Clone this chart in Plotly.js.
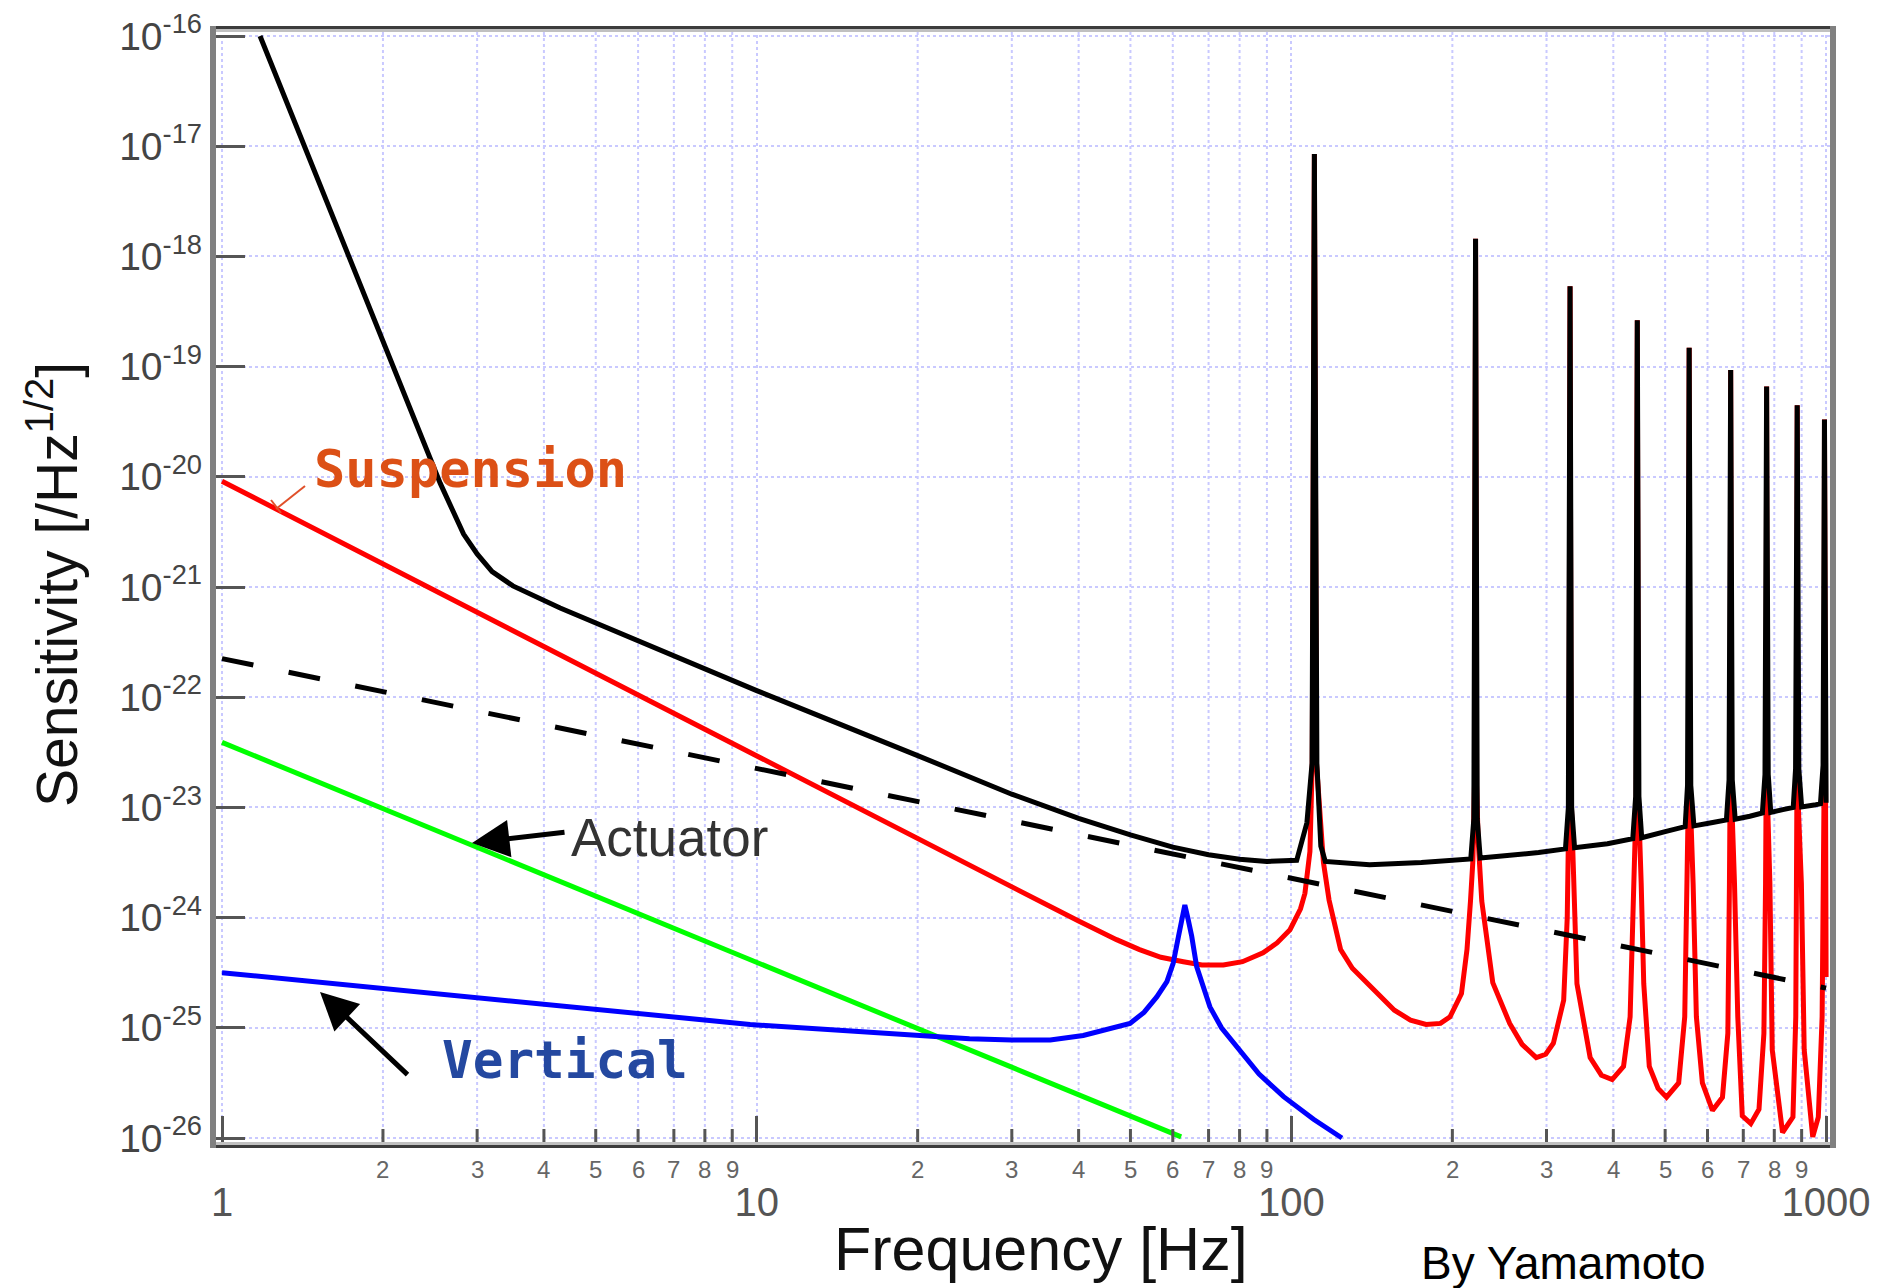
<!DOCTYPE html>
<html>
<head>
<meta charset="utf-8">
<script src="https://cdn.plot.ly/plotly-3.0.1.min.js"></script>
<style>
html,body{margin:0;padding:0;background:#ffffff;}
#chart{width:1878px;height:1288px;}
</style>
</head>
<body>
<div id="chart"></div>
<script>
// ---------------- data ----------------
// Total sensitivity (solid black)
const totalFreq = [1.178, 1.41, 1.70, 2.03, 2.45, 2.56, 2.83, 3.0, 3.2, 3.5, 4.29, 5.13, 7.54, 10, 20, 30, 40, 50, 60, 70, 80, 90, 102.3, 106.9, 109.3, 110.4, 111.6, 113.5, 115.7, 140, 175, 198,
  216.5, 219.4, 221, 222.6, 225.5, 290,
  325.5, 329.6, 332, 334.3, 338.5, 390,
  435, 440.4, 443.5, 446.6, 452, 500,
  545, 550.6, 554.5, 558.4, 566, 610,
  651, 658.4, 663, 667.6, 676, 720,
  760, 768.6, 774, 779.4, 788, 830,
  868, 876.8, 883, 889.2, 900, 950,
  976, 987, 993, 1000];
const totalSens = [1e-16, 1.148e-17, 1.202e-18, 1.413e-19, 1.445e-20, 8.71e-21, 3.02e-21, 1.995e-21, 1.38e-21, 1.023e-21, 6.457e-22, 4.467e-22, 2.042e-22, 1.148e-22, 2.951e-23, 1.318e-23, 7.943e-24, 5.623e-24, 4.365e-24, 3.715e-24, 3.388e-24, 3.236e-24, 3.311e-24, 7.244e-24, 2.512e-23, 8.511e-18, 2.512e-23, 4.467e-24, 3.236e-24, 3.02e-24, 3.162e-24, 3.311e-24,
  3.4e-24, 7.9e-24, 1.445e-18, 7.9e-24, 3.467e-24, 3.89e-24,
  4.2e-24, 1.0e-23, 5.37e-19, 1.0e-23, 4.3e-24, 4.677e-24,
  5.2e-24, 1.26e-23, 2.63e-19, 1.26e-23, 5.3e-24, 6.026e-24,
  6.7e-24, 1.585e-23, 1.479e-19, 1.585e-23, 6.8e-24, 7.244e-24,
  7.7e-24, 1.778e-23, 9.33e-20, 1.778e-23, 7.8e-24, 8.318e-24,
  8.9e-24, 1.995e-23, 6.607e-20, 1.995e-23, 9.0e-24, 9.55e-24,
  1.0e-23, 2.239e-23, 4.467e-20, 2.239e-23, 1.01e-23, 1.05e-23,
  1.08e-23, 2.4e-23, 3.311e-20, 1.1e-23];

// Reference line (dashed black)
const dashFreq = [1, 1000];
const dashSens = [2.239e-22, 2.291e-25];

// Suspension thermal noise (red)
const suspFreq = [1, 10, 20, 35.4, 40, 47.1, 52, 57, 62.8, 68, 74.6, 81, 88.5, 94, 99.4, 104, 106, 108.3, 109.4, 110.4, 111.4, 114.8, 117.6, 123.6, 130, 138.5, 155.8, 167, 178.6, 190, 198, 208, 213, 216.3, 218.5,
  220, 221, 222, 223.5, 227, 231, 238, 256, 270, 287, 299, 309, 323, 328,
  330.5, 332, 333.5, 337, 342, 362, 380, 398, 418, 430, 437,
  441.5, 443.5, 445.5, 451, 456, 467, 485, 503, 530, 544, 550.5,
  553, 554.5, 556, 564, 572, 587, 613, 640, 655, 659.5,
  661.5, 663, 664.5, 674, 683.6, 697, 723, 749, 765, 770.5,
  772.5, 774, 775.5, 785, 793, 829, 867, 877.6, 880.5,
  882, 883, 884, 899, 910, 944, 967, 983, 988.5,
  991.5, 993, 1000];
const suspSens = [9.12e-21, 2.884e-23, 5.129e-24, 1.259e-24, 9.333e-25, 6.31e-25, 5.129e-25, 4.365e-25, 3.981e-25, 3.715e-25, 3.715e-25, 3.981e-25, 4.786e-25, 5.888e-25, 7.762e-25, 1.202e-24, 1.66e-24, 3.981e-24, 2.512e-23, 8.511e-18, 2.512e-23, 3.162e-24, 1.445e-24, 5.129e-25, 3.467e-25, 2.57e-25, 1.445e-25, 1.175e-25, 1.072e-25, 1.096e-25, 1.259e-25, 2.042e-25, 5.129e-25, 1.445e-24, 3.311e-24,
  1.585e-23, 1.445e-18, 1.585e-23, 5.012e-24, 1.413e-24, 7.244e-25, 2.57e-25, 1.096e-25, 7.079e-26, 5.37e-26, 5.754e-26, 7.244e-26, 1.778e-25, 1.0e-24,
  1.259e-23, 5.37e-19, 1.259e-23, 2.512e-24, 2.512e-25, 5.37e-26, 3.715e-26, 3.388e-26, 4.467e-26, 1.259e-25, 2.042e-24,
  1.259e-23, 2.63e-19, 1.259e-23, 2.042e-24, 2.512e-25, 4.467e-26, 2.818e-26, 2.344e-26, 3.162e-26, 1.259e-25, 2.042e-24,
  1.585e-23, 1.479e-19, 1.585e-23, 2.042e-24, 1.259e-25, 3.162e-26, 1.778e-26, 2.344e-26, 8.913e-26, 2.042e-24,
  1.585e-23, 9.33e-20, 1.585e-23, 2.042e-24, 1.259e-25, 1.585e-26, 1.349e-26, 1.82e-26, 8.913e-26, 2.042e-24,
  1.585e-23, 6.607e-20, 1.585e-23, 2.042e-24, 6.31e-26, 1.122e-26, 1.549e-26, 1.259e-25, 2.042e-24,
  1.585e-23, 4.467e-20, 1.585e-23, 2.042e-24, 6.31e-26, 1.023e-26, 1.549e-26, 1.259e-25, 2.042e-24,
  1.585e-23, 3.311e-20, 2.884e-25];

// Actuator noise (green)
const actFreq = [1, 62.2];
const actSens = [3.89e-23, 1.023e-26];

// Vertical-mode noise (blue)
const vertFreq = [1, 1.4, 3.82, 9.72, 15, 20, 25, 30, 35.4, 40.8, 45, 49.9, 53, 56, 58.5, 60.1, 61.5, 62.5, 63.2, 64, 65.1, 66.5, 68.5, 70.4, 74, 79, 87, 96.7, 110, 124.3];
const vertSens = [3.162e-25, 2.692e-25, 1.66e-25, 1.072e-25, 9.333e-26, 8.511e-26, 7.943e-26, 7.762e-26, 7.762e-26, 8.511e-26, 9.55e-26, 1.096e-25, 1.38e-25, 1.905e-25, 2.63e-25, 3.846e-25, 6.761e-25, 1.0e-24, 1.3e-24, 1.0e-24, 6.761e-25, 3.589e-25, 2.239e-25, 1.549e-25, 1.0e-25, 6.761e-26, 3.802e-26, 2.371e-26, 1.479e-26, 1.0e-26];

// Tick labels
const yTickVals = [1e-16, 1e-17, 1e-18, 1e-19, 1e-20, 1e-21, 1e-22, 1e-23, 1e-24, 1e-25, 1e-26];
const yTickText = ['10<sup>-16</sup>', '10<sup>-17</sup>', '10<sup>-18</sup>', '10<sup>-19</sup>', '10<sup>-20</sup>', '10<sup>-21</sup>', '10<sup>-22</sup>', '10<sup>-23</sup>', '10<sup>-24</sup>', '10<sup>-25</sup>', '10<sup>-26</sup>'];
const xMajorVals = [1, 10, 100, 1000];
const xMajorText = ['1', '10', '100', '1000'];
const xMinorVals = [2, 3, 4, 5, 6, 7, 8, 9, 20, 30, 40, 50, 60, 70, 80, 90, 200, 300, 400, 500, 600, 700, 800, 900];
const xMinorText = ['2', '3', '4', '5', '6', '7', '8', '9', '2', '3', '4', '5', '6', '7', '8', '9', '2', '3', '4', '5', '6', '7', '8', '9'];

// ---------------- layout helpers (pixel -> paper) ----------------
const L = 213, R = 1833, T = 29, B = 1145;
const W = R - L, H = B - T;
const px = v => (v - L) / W;
const py = v => (B - v) / H;

const gridColor = '#c9c9ff';
const sansFont = 'Liberation Sans, Arial, sans-serif';

const traces = [
  {x: actFreq, y: actSens, type: 'scatter', mode: 'lines', line: {color: '#00ff00', width: 5}, hoverinfo: 'skip'},
  {x: suspFreq, y: suspSens, type: 'scatter', mode: 'lines', line: {color: '#ff0000', width: 5}, hoverinfo: 'skip'},
  {x: vertFreq, y: vertSens, type: 'scatter', mode: 'lines', line: {color: '#0000ff', width: 5}, hoverinfo: 'skip'},
  {x: dashFreq, y: dashSens, type: 'scatter', mode: 'lines', line: {color: '#000000', width: 5, dash: '32px,36px'}, hoverinfo: 'skip'},
  {x: totalFreq, y: totalSens, type: 'scatter', mode: 'lines', line: {color: '#000000', width: 5}, hoverinfo: 'skip'}
];

const xRange = [-0.01683, 3.0129];
const yRange = [-26.0635, -15.9365];

// minor-decade labels (2 ... 9), placed on the x scale
const minorLabelAnnotations = xMinorVals.map((v, i) => ({
  xref: 'x', yref: 'paper', x: Math.log10(v), y: py(1169), text: xMinorText[i], showarrow: false,
  xanchor: 'center', yanchor: 'middle', font: {family: sansFont, size: 24, color: '#666666'}
}));
// minor grid lines and minor tick marks, placed on the x scale (shapes take data values on log axes)
const minorGridShapes = xMinorVals.map(v => ({
  type: 'line', xref: 'x', yref: 'paper', x0: v, x1: v, y0: 0, y1: 1,
  line: {color: gridColor, width: 2, dash: 'dot'}, layer: 'below'
}));
const minorTickShapes = xMinorVals.map(v => ({
  type: 'line', xref: 'x', yref: 'paper', x0: v, x1: v, y0: 0, y1: 16 / H,
  line: {color: '#555555', width: 3}, layer: 'above'
}));

const frameShapes = [
  {type: 'line', xref: 'paper', yref: 'paper', x0: 0, x1: 1, y0: 1 + 1.5 / H, y1: 1 + 1.5 / H, line: {color: '#3c3c3c', width: 3}, layer: 'above'},
  {type: 'line', xref: 'paper', yref: 'paper', x0: 0, x1: 1, y0: 1 - 1.5 / H, y1: 1 - 1.5 / H, line: {color: '#c0c0c0', width: 3}, layer: 'above'},
  {type: 'line', xref: 'paper', yref: 'paper', x0: 0, x1: 1, y0: -1.5 / H, y1: -1.5 / H, line: {color: '#3c3c3c', width: 3}, layer: 'above'},
  {type: 'line', xref: 'paper', yref: 'paper', x0: 0, x1: 1, y0: 1.5 / H, y1: 1.5 / H, line: {color: '#c0c0c0', width: 3}, layer: 'above'},
  {type: 'line', xref: 'paper', yref: 'paper', x0: 0, x1: 0, y0: -3 / H, y1: 1 + 3 / H, line: {color: '#808080', width: 6}, layer: 'above'},
  {type: 'line', xref: 'paper', yref: 'paper', x0: 1, x1: 1, y0: -3 / H, y1: 1 + 3 / H, line: {color: '#808080', width: 6}, layer: 'above'},
  // leader line of the "Suspension" label
  {type: 'line', xref: 'paper', yref: 'paper', x0: px(305), x1: px(276), y0: py(486), y1: py(509), line: {color: '#e0502a', width: 2}, layer: 'above'},
  {type: 'line', xref: 'paper', yref: 'paper', x0: px(271), x1: px(281), y0: py(500), y1: py(513), line: {color: '#e0502a', width: 2}, layer: 'above'}
];

const layout = {
  width: 1878, height: 1288,
  margin: {l: L, r: 1878 - R, t: T, b: 1288 - B, pad: 0},
  paper_bgcolor: '#ffffff', plot_bgcolor: '#ffffff',
  showlegend: false,
  hovermode: false,
  xaxis: {
    type: 'log', range: xRange, fixedrange: true,
    tickmode: 'array', tickvals: xMajorVals, ticktext: xMajorText,
    ticks: 'inside', ticklen: 29, tickwidth: 3, tickcolor: '#555555',
    tickfont: {family: sansFont, size: 40, color: '#555555'},
    ticklabelstandoff: 30,
    showgrid: true, gridcolor: gridColor, gridwidth: 2, griddash: 'dot',
    showline: false, zeroline: false
  },
  yaxis: {
    type: 'log', range: yRange, fixedrange: true,
    tickmode: 'array', tickvals: yTickVals, ticktext: yTickText,
    ticks: 'inside', ticklen: 32, tickwidth: 3, tickcolor: '#555555',
    tickfont: {family: sansFont, size: 39, color: '#444444'},
    ticklabelstandoff: 10,
    showgrid: true, gridcolor: gridColor, gridwidth: 2, griddash: 'dot',
    showline: false, zeroline: false
  },
  shapes: minorGridShapes.concat(minorTickShapes, frameShapes),
  annotations: minorLabelAnnotations.concat([
    {xref: 'paper', yref: 'paper', x: px(1041), y: py(1249), text: 'Frequency [Hz]', showarrow: false,
     xanchor: 'center', yanchor: 'middle', font: {family: sansFont, size: 61, color: '#111111'}},
    {xref: 'paper', yref: 'paper', x: px(53), y: py(585), text: 'Sensitivity [/Hz<sup>1/2</sup>]', showarrow: false,
     textangle: -90, xanchor: 'center', yanchor: 'middle', font: {family: sansFont, size: 57, color: '#111111'}},
    {xref: 'paper', yref: 'paper', x: px(1563), y: py(1263), text: 'By Yamamoto', showarrow: false,
     xanchor: 'center', yanchor: 'middle', font: {family: sansFont, size: 46, color: '#000000'}},
    {xref: 'paper', yref: 'paper', x: px(470), y: py(469), text: '<b>Suspension</b>', showarrow: false,
     xanchor: 'center', yanchor: 'middle', font: {family: 'DejaVu Sans Mono, monospace', size: 52, color: '#dc5016'}},
    {xref: 'paper', yref: 'paper', x: px(565), y: py(1060), text: '<b>Vertical</b>', showarrow: false,
     xanchor: 'center', yanchor: 'middle', font: {family: 'DejaVu Sans Mono, monospace', size: 51, color: '#2448a0'}},
    {xref: 'paper', yref: 'paper', x: px(669), y: py(837), text: 'Actuator', showarrow: false,
     xanchor: 'center', yanchor: 'middle', font: {family: sansFont, size: 53, color: '#333333'}},
    // arrows
    {xref: 'paper', yref: 'paper', x: px(472), y: py(843), ax: 94, ay: -11, text: '', showarrow: true,
     arrowhead: 2, arrowsize: 1.5, arrowwidth: 5, arrowcolor: '#000000'},
    {xref: 'paper', yref: 'paper', x: px(320), y: py(992), ax: 89, ay: 84, text: '', showarrow: true,
     arrowhead: 2, arrowsize: 1.5, arrowwidth: 5, arrowcolor: '#000000'}
  ])
};

Plotly.newPlot('chart', traces, layout, {displayModeBar: false, staticPlot: true});
</script>
</body>
</html>
